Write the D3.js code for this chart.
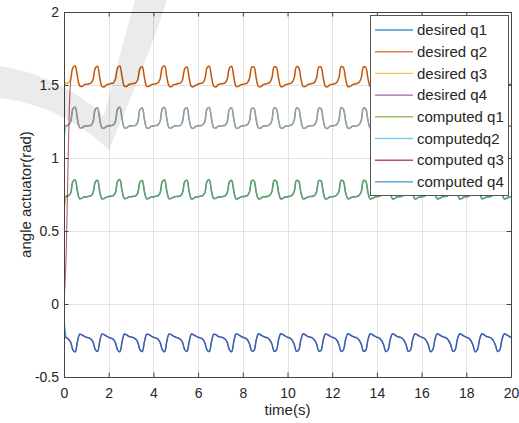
<!DOCTYPE html>
<html><head><meta charset="utf-8">
<script src="https://cdn.jsdelivr.net/npm/d3@7"></script>
<style>html,body{margin:0;padding:0;background:#fff}svg{display:block}</style>
</head><body><svg id="c" width="519" height="423"></svg>
<script>
// ---- data (t = 0 .. 20 s, step 0.1 s) ----
const seriesNames = ["desired q1","desired q2","desired q3","desired q4","computed q1","computedq2","computed q3","computed q4"];
const seriesColors = ["#0072BD","#D95319","#EDB120","#7E2F8E","#77AC30","#4DBEEE","#A2142F","#0072BD"];
const xTicks = [0,2,4,6,8,10,12,14,16,18,20];
const yTicks = [-0.5,0,0.5,1,1.5,2];
const yTickLabels = ["-0.5","0","0.5","1","1.5","2"];
const time = d3.range(201).map(i => +(i * 0.1).toFixed(1));

const desiredQ1 = [
0.735,0.738,0.741,0.762,0.840,0.850,0.772,0.722,0.725,0.733,
0.734,0.737,0.740,0.760,0.836,0.846,0.770,0.720,0.723,0.732,
0.736,0.738,0.742,0.763,0.841,0.851,0.774,0.723,0.724,0.734,
0.735,0.737,0.740,0.759,0.835,0.845,0.769,0.721,0.725,0.733,
0.734,0.738,0.741,0.761,0.839,0.849,0.773,0.722,0.724,0.732,
0.736,0.737,0.740,0.760,0.837,0.847,0.771,0.720,0.723,0.734,
0.735,0.738,0.742,0.762,0.840,0.850,0.772,0.723,0.725,0.733,
0.734,0.736,0.740,0.759,0.836,0.846,0.770,0.721,0.724,0.732,
0.736,0.738,0.743,0.767,0.845,0.843,0.766,0.721,0.723,0.734,
0.735,0.737,0.744,0.769,0.846,0.841,0.764,0.720,0.725,0.733,
0.734,0.738,0.744,0.770,0.847,0.840,0.763,0.721,0.724,0.732,
0.736,0.737,0.743,0.768,0.845,0.842,0.765,0.720,0.723,0.734,
0.735,0.738,0.745,0.771,0.848,0.839,0.762,0.721,0.725,0.733,
0.734,0.736,0.744,0.769,0.846,0.841,0.764,0.720,0.724,0.732,
0.736,0.738,0.746,0.773,0.849,0.838,0.761,0.721,0.723,0.734,
0.735,0.737,0.745,0.771,0.847,0.840,0.763,0.720,0.725,0.733,
0.734,0.738,0.747,0.774,0.850,0.837,0.760,0.721,0.724,0.732,
0.736,0.737,0.746,0.772,0.848,0.839,0.762,0.720,0.723,0.734,
0.735,0.738,0.748,0.775,0.851,0.836,0.759,0.721,0.725,0.733,
0.734,0.736,0.747,0.773,0.849,0.838,0.761,0.720,0.724,0.732,
0.735];

const desiredQ2 = [
1.220,1.222,1.226,1.250,1.337,1.347,1.268,1.209,1.206,1.217,
1.219,1.221,1.224,1.247,1.333,1.343,1.265,1.207,1.205,1.216,
1.221,1.222,1.225,1.249,1.336,1.346,1.267,1.208,1.206,1.218,
1.220,1.221,1.224,1.246,1.332,1.342,1.264,1.207,1.205,1.217,
1.219,1.222,1.226,1.250,1.337,1.346,1.268,1.209,1.206,1.216,
1.221,1.221,1.224,1.247,1.334,1.344,1.265,1.207,1.204,1.218,
1.220,1.222,1.225,1.249,1.336,1.345,1.267,1.208,1.206,1.217,
1.219,1.221,1.224,1.246,1.333,1.343,1.264,1.207,1.205,1.216,
1.221,1.222,1.227,1.255,1.340,1.338,1.260,1.206,1.205,1.218,
1.220,1.221,1.228,1.257,1.342,1.336,1.258,1.206,1.206,1.217,
1.219,1.222,1.228,1.258,1.343,1.335,1.257,1.205,1.205,1.216,
1.221,1.221,1.227,1.256,1.341,1.337,1.259,1.206,1.204,1.218,
1.220,1.222,1.229,1.259,1.344,1.334,1.256,1.205,1.206,1.217,
1.219,1.221,1.228,1.257,1.342,1.336,1.258,1.206,1.205,1.216,
1.221,1.222,1.230,1.261,1.345,1.333,1.255,1.205,1.205,1.218,
1.220,1.221,1.229,1.259,1.343,1.335,1.257,1.206,1.204,1.217,
1.219,1.222,1.231,1.262,1.346,1.332,1.254,1.205,1.206,1.216,
1.221,1.221,1.230,1.260,1.344,1.334,1.256,1.206,1.205,1.218,
1.220,1.222,1.232,1.263,1.347,1.331,1.253,1.205,1.205,1.217,
1.219,1.221,1.231,1.261,1.345,1.333,1.255,1.206,1.204,1.216,
1.220];

const desiredQ3 = [
1.510,1.512,1.516,1.542,1.622,1.632,1.556,1.494,1.490,1.503,
1.506,1.509,1.512,1.536,1.616,1.626,1.551,1.492,1.488,1.500,
1.507,1.510,1.514,1.539,1.619,1.629,1.553,1.494,1.491,1.503,
1.508,1.511,1.513,1.536,1.614,1.624,1.548,1.493,1.490,1.501,
1.506,1.509,1.515,1.541,1.621,1.630,1.556,1.496,1.489,1.502,
1.505,1.510,1.512,1.534,1.612,1.622,1.549,1.492,1.490,1.500,
1.507,1.511,1.514,1.539,1.619,1.627,1.553,1.495,1.488,1.503,
1.508,1.510,1.513,1.537,1.616,1.626,1.551,1.493,1.491,1.501,
1.505,1.509,1.515,1.545,1.624,1.622,1.547,1.492,1.489,1.500,
1.507,1.511,1.516,1.546,1.625,1.620,1.545,1.491,1.490,1.502,
1.506,1.510,1.517,1.548,1.626,1.619,1.543,1.492,1.491,1.501,
1.508,1.511,1.516,1.547,1.624,1.621,1.546,1.493,1.489,1.503,
1.505,1.509,1.518,1.550,1.627,1.618,1.542,1.491,1.490,1.500,
1.507,1.510,1.517,1.548,1.625,1.620,1.544,1.492,1.491,1.502,
1.506,1.511,1.519,1.552,1.628,1.616,1.540,1.490,1.489,1.501,
1.508,1.510,1.518,1.550,1.626,1.618,1.542,1.492,1.490,1.503,
1.505,1.509,1.520,1.553,1.629,1.615,1.539,1.491,1.491,1.500,
1.507,1.511,1.519,1.551,1.627,1.617,1.541,1.490,1.489,1.502,
1.506,1.510,1.521,1.555,1.630,1.614,1.538,1.491,1.490,1.501,
1.508,1.511,1.520,1.553,1.628,1.616,1.540,1.492,1.491,1.503,
1.506];

const desiredQ4 = [
-0.220,-0.232,-0.240,-0.263,-0.314,-0.327,-0.260,-0.208,-0.211,-0.221,
-0.227,-0.232,-0.239,-0.261,-0.311,-0.324,-0.257,-0.206,-0.210,-0.220,
-0.228,-0.233,-0.241,-0.264,-0.315,-0.326,-0.259,-0.207,-0.211,-0.222,
-0.226,-0.231,-0.239,-0.262,-0.312,-0.325,-0.258,-0.208,-0.209,-0.220,
-0.228,-0.232,-0.240,-0.263,-0.313,-0.326,-0.257,-0.206,-0.210,-0.221,
-0.227,-0.233,-0.241,-0.262,-0.311,-0.324,-0.259,-0.207,-0.211,-0.220,
-0.228,-0.232,-0.240,-0.264,-0.314,-0.325,-0.258,-0.208,-0.210,-0.222,
-0.226,-0.231,-0.239,-0.261,-0.312,-0.326,-0.257,-0.206,-0.209,-0.220,
-0.228,-0.233,-0.244,-0.272,-0.320,-0.318,-0.248,-0.205,-0.211,-0.221,
-0.227,-0.232,-0.245,-0.274,-0.322,-0.316,-0.246,-0.204,-0.210,-0.220,
-0.228,-0.233,-0.246,-0.276,-0.323,-0.315,-0.244,-0.205,-0.211,-0.222,
-0.226,-0.232,-0.245,-0.274,-0.321,-0.317,-0.246,-0.206,-0.210,-0.220,
-0.228,-0.233,-0.247,-0.277,-0.324,-0.314,-0.243,-0.204,-0.211,-0.221,
-0.227,-0.232,-0.246,-0.275,-0.322,-0.316,-0.245,-0.205,-0.210,-0.220,
-0.228,-0.233,-0.248,-0.279,-0.325,-0.313,-0.242,-0.204,-0.211,-0.222,
-0.226,-0.232,-0.247,-0.277,-0.323,-0.315,-0.244,-0.205,-0.210,-0.220,
-0.228,-0.233,-0.249,-0.280,-0.326,-0.312,-0.241,-0.204,-0.211,-0.221,
-0.227,-0.232,-0.248,-0.278,-0.324,-0.314,-0.243,-0.205,-0.210,-0.220,
-0.228,-0.233,-0.250,-0.282,-0.327,-0.311,-0.240,-0.204,-0.211,-0.222,
-0.226,-0.232,-0.249,-0.280,-0.325,-0.313,-0.242,-0.205,-0.210,-0.220,
-0.230];

const computedQ1 = [
0.000,0.732,0.742,0.761,0.838,0.852,0.774,0.720,0.724,0.734,
0.733,0.738,0.739,0.761,0.834,0.848,0.772,0.718,0.722,0.733,
0.735,0.737,0.743,0.762,0.839,0.853,0.776,0.721,0.723,0.733,
0.734,0.738,0.739,0.760,0.833,0.847,0.771,0.719,0.724,0.734,
0.735,0.737,0.742,0.760,0.837,0.851,0.775,0.720,0.723,0.733,
0.735,0.738,0.739,0.761,0.835,0.849,0.773,0.718,0.722,0.733,
0.734,0.737,0.743,0.761,0.838,0.852,0.774,0.721,0.724,0.734,
0.735,0.737,0.739,0.760,0.834,0.848,0.772,0.719,0.723,0.733,
0.735,0.737,0.744,0.766,0.843,0.845,0.768,0.719,0.722,0.733,
0.734,0.738,0.743,0.770,0.844,0.843,0.766,0.718,0.724,0.734,
0.735,0.737,0.745,0.769,0.845,0.842,0.765,0.719,0.723,0.733,
0.735,0.738,0.742,0.769,0.843,0.844,0.767,0.718,0.722,0.733,
0.734,0.737,0.746,0.770,0.846,0.841,0.764,0.719,0.724,0.734,
0.735,0.737,0.743,0.770,0.844,0.843,0.766,0.718,0.723,0.733,
0.735,0.737,0.747,0.772,0.847,0.840,0.763,0.719,0.722,0.733,
0.734,0.738,0.744,0.772,0.845,0.842,0.765,0.718,0.724,0.734,
0.735,0.737,0.748,0.773,0.848,0.839,0.762,0.719,0.723,0.733,
0.735,0.738,0.745,0.773,0.846,0.841,0.764,0.718,0.722,0.733,
0.734,0.737,0.749,0.774,0.849,0.838,0.761,0.719,0.724,0.734,
0.735,0.737,0.746,0.774,0.847,0.840,0.763,0.718,0.723,0.733,
0.734];

const computedQ2 = [
0.000,1.215,1.224,1.249,1.335,1.349,1.270,1.207,1.204,1.218,
1.218,1.222,1.223,1.248,1.331,1.345,1.267,1.205,1.204,1.217,
1.220,1.221,1.226,1.250,1.334,1.348,1.269,1.206,1.205,1.217,
1.219,1.222,1.223,1.247,1.330,1.344,1.266,1.205,1.204,1.218,
1.220,1.221,1.227,1.251,1.335,1.348,1.270,1.207,1.205,1.217,
1.220,1.222,1.223,1.248,1.332,1.346,1.267,1.205,1.203,1.217,
1.219,1.221,1.226,1.250,1.334,1.347,1.269,1.206,1.205,1.218,
1.220,1.222,1.223,1.247,1.331,1.345,1.266,1.205,1.204,1.217,
1.220,1.221,1.228,1.256,1.338,1.340,1.262,1.204,1.204,1.217,
1.219,1.222,1.227,1.258,1.340,1.338,1.260,1.204,1.205,1.218,
1.220,1.221,1.229,1.259,1.341,1.337,1.259,1.203,1.204,1.217,
1.220,1.222,1.226,1.257,1.339,1.339,1.261,1.204,1.203,1.217,
1.219,1.221,1.230,1.260,1.342,1.336,1.258,1.203,1.205,1.218,
1.220,1.222,1.227,1.258,1.340,1.338,1.260,1.204,1.204,1.217,
1.220,1.221,1.231,1.262,1.343,1.335,1.257,1.203,1.204,1.217,
1.219,1.222,1.228,1.260,1.341,1.337,1.259,1.204,1.203,1.218,
1.220,1.221,1.232,1.263,1.344,1.334,1.256,1.203,1.205,1.217,
1.220,1.222,1.229,1.261,1.342,1.336,1.258,1.204,1.204,1.217,
1.219,1.221,1.233,1.264,1.345,1.333,1.255,1.203,1.204,1.218,
1.220,1.222,1.230,1.262,1.343,1.335,1.257,1.204,1.203,1.217,
1.219];

const computedQ3 = [
0.000,0.350,1.100,1.530,1.618,1.630,1.560,1.497,1.488,1.500,
1.504,1.507,1.513,1.538,1.614,1.628,1.553,1.489,1.487,1.501,
1.505,1.511,1.512,1.540,1.617,1.630,1.555,1.491,1.489,1.502,
1.507,1.510,1.514,1.537,1.612,1.626,1.550,1.490,1.492,1.500,
1.505,1.508,1.514,1.542,1.619,1.632,1.558,1.493,1.487,1.503,
1.504,1.511,1.513,1.535,1.610,1.624,1.551,1.489,1.489,1.499,
1.506,1.510,1.513,1.540,1.617,1.629,1.555,1.492,1.486,1.502,
1.507,1.509,1.514,1.538,1.614,1.628,1.553,1.490,1.490,1.500,
1.504,1.508,1.514,1.546,1.622,1.624,1.549,1.489,1.488,1.501,
1.506,1.510,1.517,1.547,1.623,1.622,1.547,1.488,1.489,1.501,
1.505,1.511,1.516,1.549,1.624,1.621,1.545,1.489,1.490,1.502,
1.507,1.510,1.517,1.548,1.622,1.623,1.548,1.490,1.488,1.502,
1.504,1.508,1.517,1.551,1.625,1.620,1.544,1.488,1.489,1.501,
1.506,1.511,1.518,1.549,1.623,1.622,1.546,1.489,1.490,1.501,
1.505,1.510,1.518,1.553,1.626,1.618,1.542,1.487,1.488,1.502,
1.507,1.509,1.519,1.551,1.624,1.620,1.544,1.489,1.489,1.502,
1.504,1.510,1.519,1.554,1.627,1.617,1.541,1.488,1.490,1.501,
1.506,1.510,1.520,1.552,1.625,1.619,1.543,1.487,1.488,1.501,
1.505,1.509,1.520,1.556,1.628,1.616,1.540,1.488,1.489,1.502,
1.507,1.510,1.521,1.554,1.626,1.618,1.542,1.489,1.490,1.502,
1.505];

const computedQ4 = [
0.000,-0.225,-0.241,-0.262,-0.316,-0.329,-0.258,-0.206,-0.212,-0.220,
-0.228,-0.231,-0.240,-0.260,-0.313,-0.326,-0.255,-0.204,-0.211,-0.219,
-0.227,-0.234,-0.240,-0.265,-0.317,-0.328,-0.257,-0.205,-0.212,-0.221,
-0.227,-0.230,-0.240,-0.261,-0.314,-0.327,-0.256,-0.206,-0.210,-0.219,
-0.227,-0.233,-0.239,-0.264,-0.315,-0.328,-0.255,-0.204,-0.211,-0.220,
-0.228,-0.232,-0.242,-0.261,-0.313,-0.326,-0.257,-0.205,-0.212,-0.219,
-0.227,-0.233,-0.239,-0.265,-0.316,-0.327,-0.256,-0.206,-0.211,-0.221,
-0.227,-0.230,-0.240,-0.260,-0.314,-0.328,-0.255,-0.204,-0.210,-0.219,
-0.227,-0.234,-0.243,-0.273,-0.322,-0.320,-0.246,-0.203,-0.212,-0.220,
-0.228,-0.231,-0.246,-0.273,-0.324,-0.318,-0.244,-0.202,-0.211,-0.219,
-0.227,-0.234,-0.245,-0.277,-0.325,-0.317,-0.242,-0.203,-0.212,-0.221,
-0.227,-0.231,-0.246,-0.273,-0.323,-0.319,-0.244,-0.204,-0.211,-0.219,
-0.227,-0.234,-0.246,-0.278,-0.326,-0.316,-0.241,-0.202,-0.212,-0.220,
-0.228,-0.231,-0.247,-0.274,-0.324,-0.318,-0.243,-0.203,-0.211,-0.219,
-0.227,-0.234,-0.247,-0.280,-0.327,-0.315,-0.240,-0.202,-0.212,-0.221,
-0.227,-0.231,-0.248,-0.276,-0.325,-0.317,-0.242,-0.203,-0.211,-0.219,
-0.227,-0.234,-0.248,-0.281,-0.328,-0.314,-0.239,-0.202,-0.212,-0.220,
-0.228,-0.231,-0.249,-0.277,-0.326,-0.316,-0.241,-0.203,-0.211,-0.219,
-0.227,-0.234,-0.249,-0.283,-0.329,-0.313,-0.238,-0.202,-0.212,-0.221,
-0.227,-0.231,-0.250,-0.279,-0.327,-0.315,-0.240,-0.203,-0.211,-0.219,
-0.230];

const seriesValues = [desiredQ1, desiredQ2, desiredQ3, desiredQ4, computedQ1, computedQ2, computedQ3, computedQ4];

// ---- drawing ----
const svg = d3.select("#c");
const L = 64, R = 511, T = 12, B = 377;
const x = d3.scaleLinear().domain([0, 20]).range([L, R]);
const y = d3.scaleLinear().domain([-0.5, 2]).range([B, T]);
const font = "'Liberation Sans', Arial, Helvetica, sans-serif";
const axisColor = "#444";

svg.append("rect").attr("width", 519).attr("height", 423).attr("fill", "#fff");

// grid
const grid = svg.append("g").attr("stroke", "#e2e2e2").attr("stroke-width", 1);
grid.selectAll("line.gx").data(xTicks.slice(1, -1)).join("line")
  .attr("x1", d => Math.round(x(d)) + 0.5).attr("x2", d => Math.round(x(d)) + 0.5)
  .attr("y1", T).attr("y2", B);
grid.selectAll("line.gy").data(yTicks.slice(1, -1)).join("line")
  .attr("y1", d => Math.round(y(d)) + 0.5).attr("y2", d => Math.round(y(d)) + 0.5)
  .attr("x1", L).attr("x2", R);

// lines
svg.append("clipPath").attr("id", "clip").append("rect")
  .attr("x", L).attr("y", T).attr("width", R - L).attr("height", B - T);
const line = d3.line().x(d => x(d[0])).y(d => y(d[1])).curve(d3.curveCatmullRom.alpha(0.5));
const lines = svg.append("g").attr("clip-path", "url(#clip)");
const widths = [1.6,1.6,1.8,1.6,1.1,1.1,1.1,1.1];
const opac = [0.8,0.8,0.9,0.8,0.85,0.85,0.7,0.85];
seriesValues.forEach((vals, i) => {
  lines.append("path")
    .datum(time.map((t, j) => [t, vals[j]]))
    .attr("fill", "none")
    .attr("stroke", seriesColors[i])
    .attr("stroke-opacity", opac[i])
    .attr("stroke-width", widths[i])
    .attr("stroke-linejoin", "round")
    .attr("d", line);
});

// axes
const tk = 4.5;
const xAxis = svg.append("g").attr("transform", `translate(0,${B})`)
  .call(d3.axisBottom(x).tickValues(xTicks).tickFormat(d3.format("d")).tickSizeInner(-tk).tickSizeOuter(0).tickPadding(11));
const xAxisTop = svg.append("g").attr("transform", `translate(0,${T})`)
  .call(d3.axisTop(x).tickValues(xTicks).tickFormat("").tickSizeInner(-tk).tickSizeOuter(0));
const yAxis = svg.append("g").attr("transform", `translate(${L},0)`)
  .call(d3.axisLeft(y).tickValues(yTicks).tickFormat((d, i) => yTickLabels[i]).tickSizeInner(-tk).tickSizeOuter(0).tickPadding(5));
const yAxisRight = svg.append("g").attr("transform", `translate(${R},0)`)
  .call(d3.axisRight(y).tickValues(yTicks).tickFormat("").tickSizeInner(-tk).tickSizeOuter(0));
[xAxis, xAxisTop, yAxis, yAxisRight].forEach(g => {
  g.select(".domain").attr("stroke", axisColor);
  g.selectAll(".tick line").attr("stroke", axisColor);
  g.selectAll(".tick text").attr("fill", "#262626").style("font-family", font).style("font-size", "14px");
});

// axis labels
svg.append("text").attr("x", (L + R) / 2).attr("y", 415).attr("text-anchor", "middle")
  .attr("fill", "#262626").style("font-family", font).style("font-size", "15px").text("time(s)");
svg.append("text").attr("transform", `translate(31,${(T + B) / 2}) rotate(-90)`).attr("text-anchor", "middle")
  .attr("fill", "#262626").style("font-family", font).style("font-size", "15px").text("angle actuator(rad)");

// legend
const lg = svg.append("g");
lg.append("rect").attr("x", 370.5).attr("y", 15.5).attr("width", 138).attr("height", 180)
  .attr("fill", "#fff").attr("stroke", "#555").attr("stroke-width", 1);
seriesNames.forEach((nm, i) => {
  const cy = 30 + i * 21.7;
  lg.append("line").attr("x1", 375).attr("x2", 413).attr("y1", cy).attr("y2", cy)
    .attr("stroke", seriesColors[i]).attr("stroke-opacity", 0.75).attr("stroke-width", 1.4);
  lg.append("text").attr("x", 417).attr("y", cy).attr("dy", "0.35em")
    .attr("fill", "#262626").style("font-family", font).style("font-size", "15px").text(nm);
});

// faint watermark swoosh
svg.append("path")
  .attr("d", "M0,66 C40,72 80,92 104,116 C113,80 125,36 135,0 L167,0 C151,50 126,110 109,150 C80,122 40,102 0,98 Z")
  .attr("fill", "#000").attr("fill-opacity", 0.08);
</script></body></html>
